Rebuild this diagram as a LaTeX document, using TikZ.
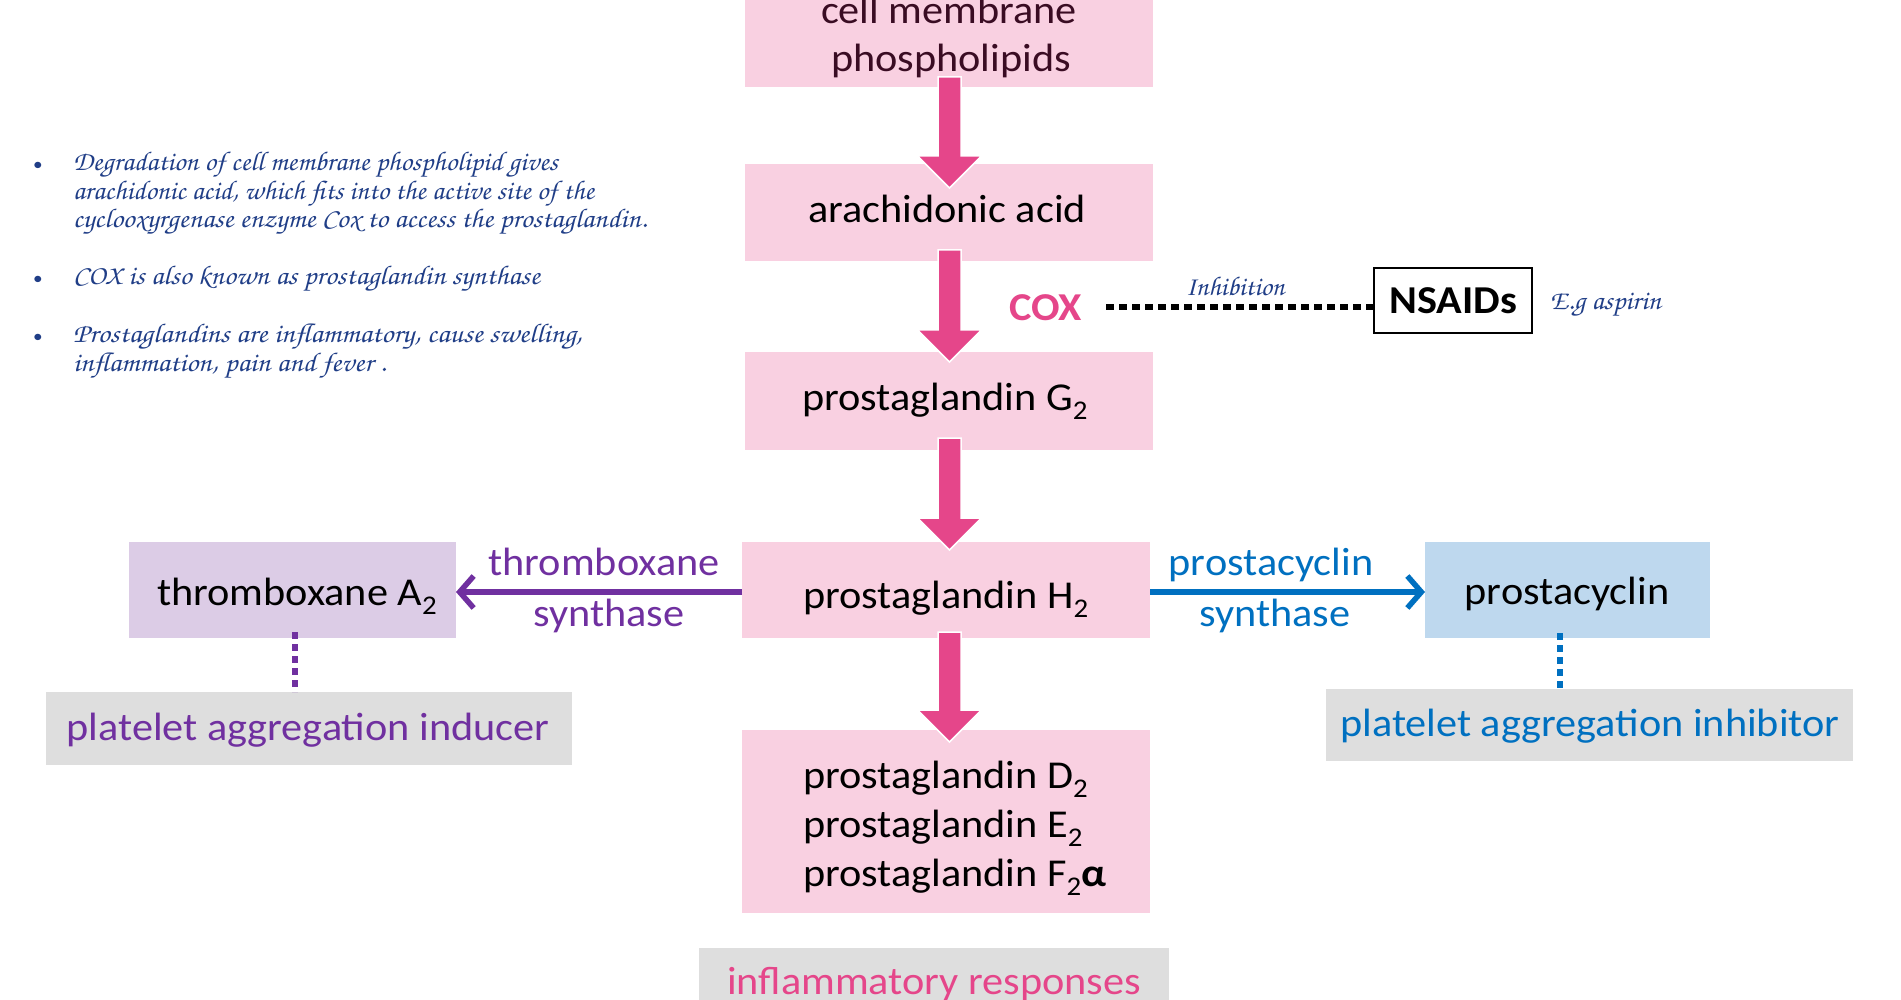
\documentclass[tikz,border=0pt]{standalone}
\usepackage{fontspec}
\usepackage{graphicx}
\usetikzlibrary{calc,arrows.meta}
\setmainfont{Carlito}
\newfontfamily\calfont[FakeStretch=1.07]{Carlito}
\newcommand\handfont{\fontencoding{OT1}\fontfamily{pzc}\fontseries{mb}\fontshape{it}\selectfont}
\newcommand\sbs[1]{\raisebox{-9.5pt}{\fontsize{27}{27}\selectfont #1}}
\definecolor{pkfill}{RGB}{249,208,225}
\definecolor{pkarrow}{RGB}{229,70,138}
\definecolor{pufill}{RGB}{220,204,230}
\definecolor{blfill}{RGB}{190,216,238}
\definecolor{grfill}{RGB}{222,222,222}
\definecolor{pucol}{RGB}{112,48,160}
\definecolor{blcol}{RGB}{0,112,192}
\definecolor{cmptext}{RGB}{58,12,35}
\definecolor{navycol}{RGB}{32,62,135}
\newcommand\blockarrow[2]{%
  \filldraw[blockarr] ($(#1)+(-11.5,0)$) -- ($(#2)+(-11.5,-32)$) -- ($(#2)+(-32,-32)$) -- (#2)
    -- ($(#2)+(32,-32)$) -- ($(#2)+(11.5,-32)$) -- ($(#1)+(11.5,0)$) -- cycle;}
\begin{document}
\begin{tikzpicture}[x=1pt, y=-1pt,
  boxs/.style={rectangle, inner sep=0pt, outer sep=0pt, draw=none},
  pinkbox/.style={boxs, fill=pkfill, minimum width=408pt},
  txt/.style={inner sep=0pt, outer sep=0pt, font=\calfont\fontsize{39.5}{48}\selectfont, text=black},
  boldtxt/.style={txt, font=\calfont\bfseries\fontsize{39.5}{48}\selectfont},
  hw/.style={inner sep=0pt, outer sep=0pt, text=navycol, font=\handfont\fontsize{27}{30}\selectfont},
  bul/.style={inner sep=0pt, text=navycol, font=\calfont\fontsize{18}{20}\selectfont, anchor=base},
  blockarr/.style={fill=pkarrow, draw=white, line width=1.5pt},
  puarr/.style={draw=pucol, line width=5.5pt, -{Straight Barb[length=14pt,width=32pt]}},
  blarr/.style={draw=blcol, line width=5.5pt, -{Straight Barb[length=14pt,width=32pt]}},
  pudots/.style={draw=pucol, line width=6pt, dash pattern=on 7pt off 5pt},
  bldots/.style={draw=blcol, line width=6pt, dash pattern=on 7pt off 5pt},
  kdots/.style={draw=black, line width=6.5pt, dash pattern=on 8pt off 5pt}]
\useasboundingbox (0,0) rectangle (1901,1000);
\clip (0,0) rectangle (1901,1000);
\fill[white] (0,0) rectangle (1901,1000);

% boxes
\node[pinkbox, minimum height=97pt] (cmp) at (949,38.5) {};
\node[pinkbox, minimum height=97pt] (aa) at (949,212.5) {};
\node[pinkbox, minimum height=98pt] (g2) at (949,401) {};
\node[pinkbox, minimum height=96pt] (h2) at (946,590) {};
\node[pinkbox, minimum height=183pt] (def) at (946,821.5) {};
\node[boxs, fill=grfill, minimum width=470pt, minimum height=62pt] (inf) at (934,979) {};
\node[boxs, fill=pufill, minimum width=327pt, minimum height=96pt] (tx) at (292.5,590) {};
\node[boxs, fill=blfill, minimum width=285pt, minimum height=96pt] (pc) at (1567.5,590) {};
\node[boxs, fill=grfill, minimum width=526pt, minimum height=73pt] (pai) at (309,728.5) {};
\node[boxs, fill=grfill, minimum width=527pt, minimum height=72pt] (pin) at (1589.5,725) {};
\node[boxs, draw=black, line width=2pt, minimum width=158pt, minimum height=65pt] (ns) at (1453,300.5) {};

% box texts
\node[txt, text=cmptext, anchor=base] (cmpa) at (949,24) {cell membrane};
\node[txt, text=cmptext, anchor=base] (cmpb) at (951,72) {phospholipids};
\node[txt, anchor=base] (aat) at (947,223) {arachidonic acid};
\node[txt, anchor=base west] (g2t) at (802,410) {prostaglandin G\sbs{2}};
\node[txt, anchor=base west] (h2t) at (803,608) {prostaglandin H\sbs{2}};
\node[txt, anchor=base west] (dt) at (803,788) {prostaglandin D\sbs{2}};
\node[txt, anchor=base west] (et) at (803,837) {prostaglandin E\sbs{2}};
\node[txt, anchor=base west] (ft) at (803,886) {prostaglandin F\sbs{2}\textbf{α}};
\node[txt, text=pkarrow, anchor=base] (inft) at (934,994) {inflammatory responses};
\node[txt, anchor=base west] (txt2) at (157,605) {thromboxane A\sbs{2}};
\node[txt, anchor=base] (pct) at (1567,604) {prostacyclin};
\node[txt, text=pucol, anchor=base] (pait) at (308,740) {platelet aggregation inducer};
\node[txt, text=blcol, anchor=base] (pint) at (1590,736) {platelet aggregation inhibitor};
\node[boldtxt, anchor=base] (nst) at (1453,314) {NSAIDs};
\node[boldtxt, text=pkarrow, anchor=base west] (cox) at (1009,320) {COX};

% arrow labels
\node[txt, text=pucol, anchor=base] (tsa) at (604,575) {thromboxane};
\node[txt, text=pucol, anchor=base] (tsb) at (609,626) {synthase};
\node[txt, text=blcol, anchor=base] (psa) at (1271,575) {prostacyclin};
\node[txt, text=blcol, anchor=base] (psb) at (1275,626) {synthase};

% handwritten notes
\node[hw, anchor=base] (inh) at (1235,296) {\resizebox{99pt}{\height}{Inhibition}};
\node[hw, anchor=base west] (eg) at (1550,310) {\resizebox{111pt}{\height}{E.g aspirin}};

\node[bul] (b1) at (38,171) {•};
\node[bul] (b2) at (38,285) {•};
\node[bul] (b3) at (38,342) {•};
\node[hw, anchor=base west] (l1) at (73,171) {\resizebox{485pt}{\height}{Degradation of cell membrane phospholipid gives}};
\node[hw, anchor=base west] (l2) at (73,200) {\resizebox{521pt}{\height}{arachidonic acid, which fits into the active site of the}};
\node[hw, anchor=base west] (l3) at (73,228) {\resizebox{574pt}{\height}{cyclooxyrgenase enzyme Cox to access the prostaglandin.}};
\node[hw, anchor=base west] (l4) at (73,285) {\resizebox{467pt}{\height}{COX is also known as prostaglandin synthase}};
\node[hw, anchor=base west] (l5) at (73,342) {\resizebox{509pt}{\height}{Prostaglandins are inflammatory, cause swelling,}};
\node[hw, anchor=base west] (l6) at (73,371) {\resizebox{313pt}{\height}{inflammation, pain and fever .}};

% block arrows
\coordinate (a1s) at ([xshift=0.5pt,yshift=10pt]cmp.south);
\coordinate (a1e) at ([xshift=0.5pt,yshift=-24pt]aa.north);
\coordinate (a2s) at ([xshift=0.5pt,yshift=11pt]aa.south);
\coordinate (a2e) at ([xshift=0.5pt,yshift=-10pt]g2.north);
\coordinate (a3s) at ([xshift=0.5pt,yshift=12pt]g2.south);
\coordinate (a3e) at ([xshift=3.5pt,yshift=-8pt]h2.north);
\coordinate (a4s) at ([xshift=3.5pt,yshift=6pt]h2.south);
\coordinate (a4e) at ([xshift=3.5pt,yshift=-12pt]def.north);
\blockarrow{a1s}{a1e}
\blockarrow{a2s}{a2e}
\blockarrow{a3s}{a3e}
\blockarrow{a4s}{a4e}

% side arrows
\draw[puarr] ([yshift=-2pt]h2.west) -- ([yshift=-2pt]tx.east);
\draw[blarr] ([yshift=-2pt]h2.east) -- ([yshift=-2pt]pc.west);

% dotted links
\draw[pudots] ([xshift=2.5pt,yshift=6pt]tx.south) -- ([xshift=2.5pt]tx.south |- pai.north);
\draw[bldots] ([xshift=-7.5pt,yshift=5pt]pc.south) -- ([xshift=-7.5pt]pc.south |- pin.north);
\draw[kdots] ([xshift=25pt]cox.east) -- (cox.east -| ns.west);
\end{tikzpicture}
\end{document}
